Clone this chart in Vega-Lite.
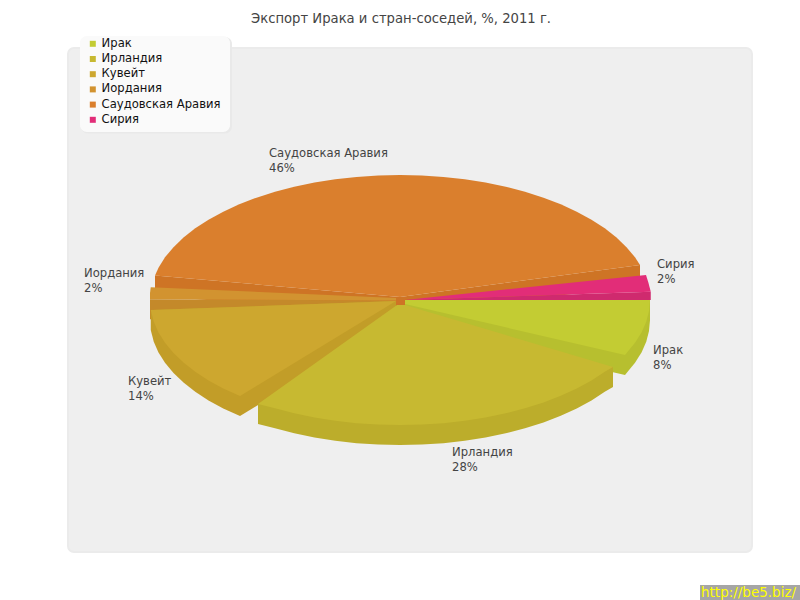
{
"$schema":"https://vega.github.io/schema/vega-lite/v6.json",
"width":684,"height":504,
"autosize":{"type":"none"},
"padding":{"left":68,"top":48,"right":48,"bottom":48},
"background":"#ffffff",
"title":{"text":"Экспорт Ирака и стран-соседей, %, 2011 г.","font":"DejaVu Sans","fontSize":13.2,"fontWeight":"normal","color":"#444444","anchor":"middle","dx":-9,"offset":10},
"config":{"view":{"fill":"#efefef","stroke":"#ebebeb","strokeWidth":2,"cornerRadius":6}},
"datasets":{
"labels":[
{"name":"Ирак","value":8,"text":"Ирак\n8%","lx":101.2,"ly":-43.2},
{"name":"Ирландия","value":28,"text":"Ирландия\n28%","lx":20.8,"ly":-124.8},
{"name":"Кувейт","value":14,"text":"Кувейт\n14%","lx":-108.8,"ly":-68},
{"name":"Иордания","value":2,"text":"Иордания\n2%","lx":-126.4,"ly":18.4},
{"name":"Саудовская Аравия","value":46,"text":"Саудовская Аравия\n46%","lx":-52.4,"ly":114.4},
{"name":"Сирия","value":2,"text":"Сирия\n2%","lx":102.8,"ly":25.6}
],
"boxes":[
{"kind":"shadow","x":-127.6,"x2":-67.2,"y":210.4,"y2":133.2},
{"kind":"box","x":-128,"x2":-68,"y":211.2,"y2":134.4}
],
"stamp":[{"text":"http://be5.biz/","x":120,"x2":160,"y":-228,"y2":-240,"tx":120.4,"ty":-237.6}],
"shapes":[
{"p":"s1","f":"Саудовская Аравия (бок)","n":0,"x":0,"y":2.4},{"p":"s1","f":"Саудовская Аравия (бок)","n":1,"x":-98,"y":19.6},{"p":"s1","f":"Саудовская Аравия (бок)","n":2,"x":-98,"y":3.6},{"p":"s1","f":"Саудовская Аравия (бок)","n":3,"x":0,"y":-13.6},
{"p":"s2","f":"Саудовская Аравия (бок)","n":0,"x":0,"y":2.4},{"p":"s2","f":"Саудовская Аравия (бок)","n":1,"x":96,"y":28},{"p":"s2","f":"Саудовская Аравия (бок)","n":2,"x":96,"y":12},{"p":"s2","f":"Саудовская Аравия (бок)","n":3,"x":0,"y":-13.6},
{"p":"s3","f":"Саудовская Аравия","n":0,"x":0,"y":2.4},
{"p":"s3","f":"Саудовская Аравия","n":1,"x":-98,"y":19.6},{"p":"s3","f":"Саудовская Аравия","n":2,"x":-96.6,"y":25.9},{"p":"s3","f":"Саудовская Аравия","n":3,"x":-94,"y":34.2},{"p":"s3","f":"Саудовская Аравия","n":4,"x":-90.6,"y":42.3},{"p":"s3","f":"Саудовская Аравия","n":5,"x":-86.6,"y":50},{"p":"s3","f":"Саудовская Аравия","n":6,"x":-81.9,"y":57.4},{"p":"s3","f":"Саудовская Аравия","n":7,"x":-76.6,"y":64.3},{"p":"s3","f":"Саудовская Аравия","n":8,"x":-70.7,"y":70.7},{"p":"s3","f":"Саудовская Аравия","n":9,"x":-64.3,"y":76.6},{"p":"s3","f":"Саудовская Аравия","n":10,"x":-57.4,"y":81.9},{"p":"s3","f":"Саудовская Аравия","n":11,"x":-50,"y":86.6},{"p":"s3","f":"Саудовская Аравия","n":12,"x":-42.3,"y":90.6},{"p":"s3","f":"Саудовская Аравия","n":13,"x":-34.2,"y":94},{"p":"s3","f":"Саудовская Аравия","n":14,"x":-25.9,"y":96.6},{"p":"s3","f":"Саудовская Аравия","n":15,"x":-17.4,"y":98.5},{"p":"s3","f":"Саудовская Аравия","n":16,"x":-8.7,"y":99.6},{"p":"s3","f":"Саудовская Аравия","n":17,"x":0,"y":100},{"p":"s3","f":"Саудовская Аравия","n":18,"x":8.7,"y":99.6},{"p":"s3","f":"Саудовская Аравия","n":19,"x":17.4,"y":98.5},{"p":"s3","f":"Саудовская Аравия","n":20,"x":25.9,"y":96.6},{"p":"s3","f":"Саудовская Аравия","n":21,"x":34.2,"y":94},{"p":"s3","f":"Саудовская Аравия","n":22,"x":42.3,"y":90.6},{"p":"s3","f":"Саудовская Аравия","n":23,"x":50,"y":86.6},{"p":"s3","f":"Саудовская Аравия","n":24,"x":57.4,"y":81.9},{"p":"s3","f":"Саудовская Аравия","n":25,"x":64.3,"y":76.6},{"p":"s3","f":"Саудовская Аравия","n":26,"x":70.7,"y":70.7},{"p":"s3","f":"Саудовская Аравия","n":27,"x":76.6,"y":64.3},{"p":"s3","f":"Саудовская Аравия","n":28,"x":81.9,"y":57.4},{"p":"s3","f":"Саудовская Аравия","n":29,"x":86.6,"y":50},{"p":"s3","f":"Саудовская Аравия","n":30,"x":90.6,"y":42.3},{"p":"s3","f":"Саудовская Аравия","n":31,"x":94,"y":34.2},{"p":"s3","f":"Саудовская Аравия","n":32,"x":96,"y":28},
{"p":"y1","f":"Сирия (бок)","n":0,"x":2,"y":0},{"p":"y1","f":"Сирия (бок)","n":1,"x":100.3,"y":6.6},{"p":"y1","f":"Сирия (бок)","n":2,"x":100.3,"y":0},
{"p":"y2","f":"Сирия","n":0,"x":2,"y":0},{"p":"y2","f":"Сирия","n":1,"x":98.4,"y":20},{"p":"y2","f":"Сирия","n":2,"x":99.4,"y":13.6},{"p":"y2","f":"Сирия","n":3,"x":100.3,"y":6.6},
{"p":"j1","f":"Иордания (бок)","n":0,"x":-1.6,"y":-0.4},{"p":"j1","f":"Иордания (бок)","n":1,"x":-100,"y":0.6},{"p":"j1","f":"Иордания (бок)","n":2,"x":-100,"y":-15.4},{"p":"j1","f":"Иордания (бок)","n":3,"x":-1.6,"y":-16.4},
{"p":"j2","f":"Иордания","n":0,"x":-1.6,"y":1.6},{"p":"j2","f":"Иордания","n":1,"x":-99.7,"y":10.2},{"p":"j2","f":"Иордания","n":2,"x":-100,"y":5.6},{"p":"j2","f":"Иордания","n":3,"x":-100,"y":0.6},{"p":"j2","f":"Иордания","n":4,"x":-1.6,"y":-0.4},
{"p":"k1","f":"Кувейт (бок)","n":0,"x":-99.7,"y":-8},{"p":"k1","f":"Кувейт (бок)","n":1,"x":-99.7,"y":-24},{"p":"k1","f":"Кувейт (бок)","n":2,"x":-98.5,"y":-33.4},{"p":"k1","f":"Кувейт (бок)","n":3,"x":-96.6,"y":-41.9},{"p":"k1","f":"Кувейт (бок)","n":4,"x":-94,"y":-50.2},{"p":"k1","f":"Кувейт (бок)","n":5,"x":-90.6,"y":-58.3},{"p":"k1","f":"Кувейт (бок)","n":6,"x":-86.6,"y":-66},{"p":"k1","f":"Кувейт (бок)","n":7,"x":-81.9,"y":-73.4},{"p":"k1","f":"Кувейт (бок)","n":8,"x":-76.6,"y":-80.3},{"p":"k1","f":"Кувейт (бок)","n":9,"x":-70.7,"y":-86.7},{"p":"k1","f":"Кувейт (бок)","n":10,"x":-64,"y":-92.8},{"p":"k1","f":"Кувейт (бок)","n":11,"x":-1.6,"y":-16.8},{"p":"k1","f":"Кувейт (бок)","n":12,"x":-1.6,"y":-0.8},
{"p":"k2","f":"Кувейт","n":0,"x":-1.6,"y":-0.8},{"p":"k2","f":"Кувейт","n":1,"x":-99.7,"y":-8},{"p":"k2","f":"Кувейт","n":2,"x":-98.5,"y":-17.4},{"p":"k2","f":"Кувейт","n":3,"x":-96.6,"y":-25.9},{"p":"k2","f":"Кувейт","n":4,"x":-94,"y":-34.2},{"p":"k2","f":"Кувейт","n":5,"x":-90.6,"y":-42.3},{"p":"k2","f":"Кувейт","n":6,"x":-86.6,"y":-50},{"p":"k2","f":"Кувейт","n":7,"x":-81.9,"y":-57.4},{"p":"k2","f":"Кувейт","n":8,"x":-76.6,"y":-64.3},{"p":"k2","f":"Кувейт","n":9,"x":-70.7,"y":-70.7},{"p":"k2","f":"Кувейт","n":10,"x":-64,"y":-76.8},
{"p":"i1","f":"Ирак (бок)","n":0,"x":100,"y":0},{"p":"i1","f":"Ирак (бок)","n":1,"x":100,"y":-16},{"p":"i1","f":"Ирак (бок)","n":2,"x":99.6,"y":-24.7},{"p":"i1","f":"Ирак (бок)","n":3,"x":98.5,"y":-33.4},{"p":"i1","f":"Ирак (бок)","n":4,"x":96.6,"y":-41.9},{"p":"i1","f":"Ирак (бок)","n":5,"x":94,"y":-50.2},{"p":"i1","f":"Ирак (бок)","n":6,"x":90,"y":-60},{"p":"i1","f":"Ирак (бок)","n":7,"x":2,"y":-19.2},{"p":"i1","f":"Ирак (бок)","n":8,"x":2,"y":-3.2},
{"p":"i2","f":"Ирак","n":0,"x":2,"y":0},{"p":"i2","f":"Ирак","n":1,"x":100,"y":0},{"p":"i2","f":"Ирак","n":2,"x":99.6,"y":-8.7},{"p":"i2","f":"Ирак","n":3,"x":98.5,"y":-17.4},{"p":"i2","f":"Ирак","n":4,"x":96.6,"y":-25.9},{"p":"i2","f":"Ирак","n":5,"x":94,"y":-34.2},{"p":"i2","f":"Ирак","n":6,"x":90,"y":-44},{"p":"i2","f":"Ирак","n":7,"x":2,"y":-3.2},
{"p":"r1","f":"Ирландия (бок)","n":0,"x":85.2,"y":-53.6},{"p":"r1","f":"Ирландия (бок)","n":1,"x":85.2,"y":-69.6},{"p":"r1","f":"Ирландия (бок)","n":2,"x":81.9,"y":-73.4},{"p":"r1","f":"Ирландия (бок)","n":3,"x":76.6,"y":-80.3},{"p":"r1","f":"Ирландия (бок)","n":4,"x":70.7,"y":-86.7},{"p":"r1","f":"Ирландия (бок)","n":5,"x":64.3,"y":-92.6},{"p":"r1","f":"Ирландия (бок)","n":6,"x":57.4,"y":-97.9},{"p":"r1","f":"Ирландия (бок)","n":7,"x":50,"y":-102.6},{"p":"r1","f":"Ирландия (бок)","n":8,"x":42.3,"y":-106.6},{"p":"r1","f":"Ирландия (бок)","n":9,"x":34.2,"y":-110},{"p":"r1","f":"Ирландия (бок)","n":10,"x":25.9,"y":-112.6},{"p":"r1","f":"Ирландия (бок)","n":11,"x":17.4,"y":-114.5},{"p":"r1","f":"Ирландия (бок)","n":12,"x":8.7,"y":-115.6},{"p":"r1","f":"Ирландия (бок)","n":13,"x":0,"y":-116},{"p":"r1","f":"Ирландия (бок)","n":14,"x":-8.7,"y":-115.6},{"p":"r1","f":"Ирландия (бок)","n":15,"x":-17.4,"y":-114.5},{"p":"r1","f":"Ирландия (бок)","n":16,"x":-25.9,"y":-112.6},{"p":"r1","f":"Ирландия (бок)","n":17,"x":-34.2,"y":-110},{"p":"r1","f":"Ирландия (бок)","n":18,"x":-42.3,"y":-106.6},{"p":"r1","f":"Ирландия (бок)","n":19,"x":-50,"y":-102.6},{"p":"r1","f":"Ирландия (бок)","n":20,"x":-56.8,"y":-99.2},{"p":"r1","f":"Ирландия (бок)","n":21,"x":-56.8,"y":-83.2},{"p":"r1","f":"Ирландия (бок)","n":22,"x":0,"y":-60},
{"p":"r2","f":"Ирландия","n":0,"x":2,"y":-4},{"p":"r2","f":"Ирландия","n":1,"x":85.2,"y":-53.6},{"p":"r2","f":"Ирландия","n":2,"x":81.9,"y":-57.4},{"p":"r2","f":"Ирландия","n":3,"x":76.6,"y":-64.3},{"p":"r2","f":"Ирландия","n":4,"x":70.7,"y":-70.7},{"p":"r2","f":"Ирландия","n":5,"x":64.3,"y":-76.6},{"p":"r2","f":"Ирландия","n":6,"x":57.4,"y":-81.9},{"p":"r2","f":"Ирландия","n":7,"x":50,"y":-86.6},{"p":"r2","f":"Ирландия","n":8,"x":42.3,"y":-90.6},{"p":"r2","f":"Ирландия","n":9,"x":34.2,"y":-94},{"p":"r2","f":"Ирландия","n":10,"x":25.9,"y":-96.6},{"p":"r2","f":"Ирландия","n":11,"x":17.4,"y":-98.5},{"p":"r2","f":"Ирландия","n":12,"x":8.7,"y":-99.6},{"p":"r2","f":"Ирландия","n":13,"x":0,"y":-100},{"p":"r2","f":"Ирландия","n":14,"x":-8.7,"y":-99.6},{"p":"r2","f":"Ирландия","n":15,"x":-17.4,"y":-98.5},{"p":"r2","f":"Ирландия","n":16,"x":-25.9,"y":-96.6},{"p":"r2","f":"Ирландия","n":17,"x":-34.2,"y":-94},{"p":"r2","f":"Ирландия","n":18,"x":-42.3,"y":-90.6},{"p":"r2","f":"Ирландия","n":19,"x":-50,"y":-86.6},{"p":"r2","f":"Ирландия","n":20,"x":-56.8,"y":-83.2},{"p":"r2","f":"Ирландия","n":21,"x":-1.2,"y":-4}
]
},
"encoding":{
"x":{"field":"x","type":"quantitative","axis":null,"scale":{"domain":[-132.8,140.8],"nice":false,"zero":false}},
"y":{"field":"y","type":"quantitative","axis":null,"scale":{"domain":[-201.6,201.6],"nice":false,"zero":false}}
},
"layer":[
{"data":{"name":"shapes"},
"mark":{"type":"line","filled":true,"clip":false,"interpolate":"linear"},
"encoding":{
"color":{"field":"f","type":"nominal","scale":{"domain":["Ирак","Ирландия","Кувейт","Иордания","Саудовская Аравия","Сирия","Ирак (бок)","Ирландия (бок)","Кувейт (бок)","Иордания (бок)","Саудовская Аравия (бок)","Сирия (бок)"],"range":["#c3cc33","#c7b931","#cda72f","#d29330","#da7f2d","#e22d78","#b7bf2f","#bcad2b","#c29d28","#c4892a","#ce7425","#cf2a6e"]},
"legend":{"values":["Ирак","Ирландия","Кувейт","Иордания","Саудовская Аравия","Сирия"],"title":null,"orient":"none","legendX":19,"legendY":-10,"symbolType":"square","symbolSize":36,"symbolStrokeWidth":0,"labelFont":"DejaVu Sans","labelFontSize":11.6,"labelColor":"#111111","labelOffset":3,"rowPadding":2.2,"padding":0,"zindex":1,"labelLimit":200}},
"detail":{"field":"p"},
"order":{"field":"n","type":"quantitative"}
}},
{"data":{"name":"boxes"},"transform":[{"filter":"datum.kind==='shadow'"}],
"mark":{"type":"rect","fill":"#e9e9e9","cornerRadius":7,"clip":false},
"encoding":{"x2":{"field":"x2"},"y2":{"field":"y2"}}},
{"data":{"name":"boxes"},"transform":[{"filter":"datum.kind==='box'"}],
"mark":{"type":"rect","fill":"#fafafa","cornerRadius":7,"clip":false},
"encoding":{"x2":{"field":"x2"},"y2":{"field":"y2"}}},
{"data":{"name":"labels"},
"mark":{"type":"text","align":"left","baseline":"alphabetic","font":"DejaVu Sans","fontSize":11.6,"lineBreak":"\n","lineHeight":15,"fill":"#444444"},
"encoding":{"x":{"field":"lx","type":"quantitative"},"y":{"field":"ly","type":"quantitative"},"text":{"field":"text"}}},
{"data":{"name":"stamp"},
"mark":{"type":"rect","fill":"#a6a6a6","clip":false},
"encoding":{"x2":{"field":"x2"},"y2":{"field":"y2"}}},
{"data":{"name":"stamp"},
"mark":{"type":"text","align":"left","baseline":"alphabetic","font":"DejaVu Sans","fontSize":13.5,"fill":"#ffff00"},
"encoding":{"x":{"field":"tx","type":"quantitative"},"y":{"field":"ty","type":"quantitative"},"text":{"field":"text"}}}
]
}
